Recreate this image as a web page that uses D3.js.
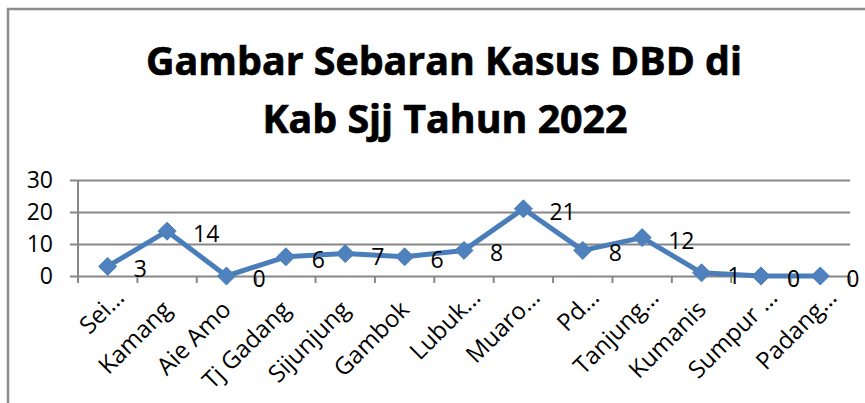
<!DOCTYPE html>
<html>
<head>
<meta charset="utf-8">
<script src="https://cdn.jsdelivr.net/npm/d3@7"></script>
<style>
    body { margin: 0; background: #fff; }
    text { font-family: "Open Sans", sans-serif; fill: #000; }
</style>
</head>
<body>
<div id="chart"></div>
<script>
// Data
const categories = ['Sei…', 'Kamang', 'Aie Amo', 'Tj Gadang', 'Sijunjung', 'Gambok',
    'Lubuk…', 'Muaro…', 'Pd…', 'Tanjung…', 'Kumanis', 'Sumpur …', 'Padang…'];
const cases = [3, 14, 0, 6, 7, 6, 8, 21, 8, 12, 1, 0, 0];
const yTicks = [0, 10, 20, 30];
const titleLines = ['Gambar Sebaran Kasus DBD di', 'Kab Sjj Tahun 2022'];

const W = 865, H = 403;
const plot = { left: 78, right: 850, top: 180, bottom: 276 };

const svg = d3.select("#chart").append("svg")
    .attr("width", W)
    .attr("height", H);

svg.append("rect").attr("width", W).attr("height", H).attr("fill", "#fff");

// chart frame (runs off the right and bottom of the picture)
svg.append("rect")
    .attr("x", 8).attr("y", 9)
    .attr("width", 900).attr("height", 420)
    .attr("fill", "none")
    .attr("stroke", "#8c8c8c")
    .attr("stroke-width", 2.5);

// Title, sized so the first line spans the same width as the original
const title = svg.append("g")
    .attr("font-weight", "bold")
    .attr("text-anchor", "middle")
    .attr("stroke", "#000")
    .attr("stroke-width", 0.7)
    .style("font-family", "Lato");
const t1 = title.append("text").attr("x", 444).attr("y", 75).attr("font-size", 40).text(titleLines[0]);
const size = 40 * 596 / t1.node().getComputedTextLength();
t1.attr("font-size", size);
title.append("text").attr("x", 445).attr("y", 133).attr("font-size", size).text(titleLines[1]);

// Scales
const x = d3.scaleBand()
    .domain(categories)
    .range([plot.left, plot.right]);

const y = d3.scaleLinear()
    .domain([0, 30])
    .range([plot.bottom, plot.top]);

// Gridlines
svg.append("g")
    .attr("transform", `translate(${plot.right},0)`)
    .call(d3.axisLeft(y).tickValues(yTicks).tickSize(plot.right - plot.left + 8).tickFormat(""))
    .call(g => g.select(".domain").remove())
    .call(g => g.selectAll("line").attr("stroke", "#878787").attr("stroke-width", 2));

// Y axis labels + axis line
svg.append("g")
    .attr("transform", `translate(${plot.left},0)`)
    .call(d3.axisLeft(y).tickValues(yTicks).tickSize(0).tickPadding(25))
    .call(g => g.select(".domain").remove())
    .call(g => g.selectAll("text").attr("font-size", 23).attr("font-family", "Open Sans").attr("fill", "#000"));

svg.append("line")
    .attr("x1", plot.left).attr("x2", plot.left)
    .attr("y1", plot.top).attr("y2", plot.bottom + 7)
    .attr("stroke", "#878787").attr("stroke-width", 2);

// X axis tick marks at category boundaries
const bounds = categories.map(c => x(c)).concat([plot.right]);
svg.append("g").selectAll("line")
    .data(bounds)
    .enter()
    .append("line")
    .attr("x1", d => d).attr("x2", d => d)
    .attr("y1", plot.bottom).attr("y2", plot.bottom + 7)
    .attr("stroke", "#878787").attr("stroke-width", 2);

// Category labels, rotated; the cut-off ones sit a little further along
svg.append("g").selectAll("text")
    .data(categories)
    .enter()
    .append("text")
    .attr("text-anchor", "end")
    .attr("font-size", 24)
    .attr("dx", d => d.endsWith("…") ? 17 : 0)
    .attr("transform", d => `translate(${x(d) + x.bandwidth() / 2 + 6},${plot.bottom + 35}) rotate(-45)`)
    .text(d => d);

// Line
const cx = (d, i) => x(categories[i]) + x.bandwidth() / 2;
const line = d3.line()
    .x(cx)
    .y(d => y(d));

svg.append("path")
    .datum(cases)
    .attr("fill", "none")
    .attr("stroke", "#4a7ebb")
    .attr("stroke-width", 5)
    .attr("stroke-linejoin", "round")
    .attr("d", line);

// Diamond markers
svg.append("g").selectAll("path")
    .data(cases)
    .enter()
    .append("path")
    .attr("transform", (d, i) => `translate(${cx(d, i)},${y(d)})`)
    .attr("d", "M0,-9L9,0L0,9L-9,0Z")
    .attr("fill", "#4f81bd")
    .attr("stroke", "#4a7ebb")
    .attr("stroke-width", 1);

// Data labels, right of each point
svg.append("g").selectAll("text")
    .data(cases)
    .enter()
    .append("text")
    .attr("x", (d, i) => cx(d, i) + 26)
    .attr("y", d => y(d) + 11)
    .attr("font-size", 23)
    .text(d => d);
</script>
</body>
</html>
